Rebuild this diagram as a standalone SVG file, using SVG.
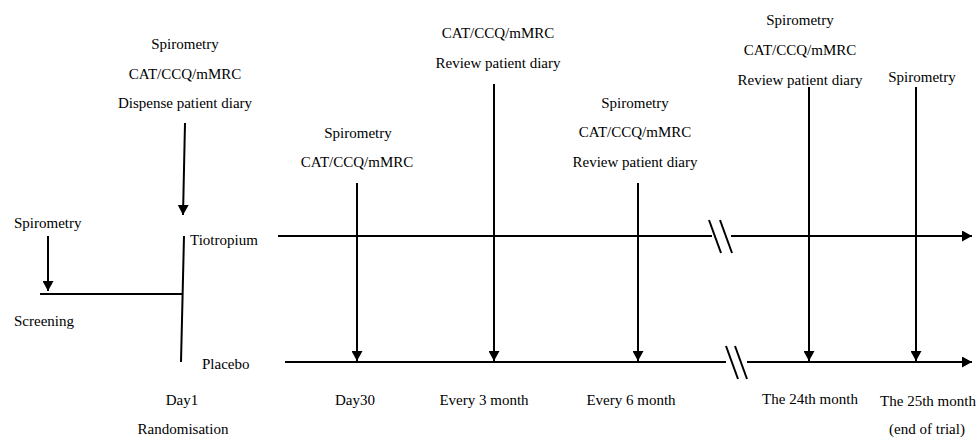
<svg xmlns="http://www.w3.org/2000/svg" width="976" height="438" viewBox="0 0 976 438">
  <style>
    text { font-family: "Liberation Serif", "Times New Roman", serif; font-size: 15px; fill: #000; }
    .c { text-anchor: middle; }
    .ln { stroke: #000; stroke-width: 2; fill: none; }
    .ar { stroke: #000; stroke-width: 2; fill: none; marker-end: url(#ah); }
  </style>
  <defs>
    <marker id="ah" markerUnits="userSpaceOnUse" markerWidth="11" markerHeight="11" refX="10" refY="5.5" orient="auto">
      <path d="M0,0 L10,5.5 L0,11 Z" fill="#000"/>
    </marker>
  </defs>
  <rect width="976" height="438" fill="#fff"/>

  <g id="connectors">
    <!-- screening -->
    <line class="ar" x1="48" y1="236" x2="48" y2="291"/>
    <line class="ln" x1="40" y1="294" x2="183" y2="294"/>
    <line class="ln" x1="184" y1="236" x2="181" y2="362"/>
    <line class="ar" x1="185" y1="123" x2="183" y2="215"/>
    <!-- Tiotropium timeline -->
    <line class="ln" x1="278" y1="236" x2="712" y2="236"/>
    <line class="ln" x1="709" y1="220" x2="721" y2="253"/>
    <line class="ln" x1="720" y1="220" x2="732" y2="253"/>
    <line class="ar" x1="731" y1="236" x2="972" y2="236"/>
    <!-- Placebo timeline -->
    <line class="ln" x1="285" y1="362" x2="726" y2="362"/>
    <line class="ln" x1="726" y1="346" x2="738" y2="379"/>
    <line class="ln" x1="735" y1="346" x2="747" y2="379"/>
    <line class="ar" x1="747" y1="362" x2="972" y2="362"/>
    <!-- visit arrows -->
    <line class="ar" x1="357" y1="183" x2="357" y2="361"/>
    <line class="ar" x1="494" y1="84" x2="494" y2="361"/>
    <line class="ar" x1="638" y1="183" x2="638" y2="361"/>
    <line class="ar" x1="809" y1="87" x2="809" y2="361"/>
    <line class="ar" x1="916" y1="87" x2="916" y2="361"/>
  </g>

  <g id="screening">
    <text x="14" y="228">Spirometry</text>
    <text x="14" y="326">Screening</text>
  </g>
  <g id="day1">
    <text class="c" x="185" y="49">Spirometry</text>
    <text class="c" x="185" y="79">CAT/CCQ/mMRC</text>
    <text class="c" x="185" y="108">Dispense patient diary</text>
    <text class="c" x="182" y="405">Day1</text>
    <text class="c" x="183" y="434">Randomisation</text>
  </g>
  <g id="tiotropium">
    <text x="190" y="245">Tiotropium</text>
  </g>
  <g id="placebo">
    <text x="202" y="369">Placebo</text>
  </g>
  <g id="day30">
    <text class="c" x="358" y="138">Spirometry</text>
    <text class="c" x="357" y="167">CAT/CCQ/mMRC</text>
    <text class="c" x="355" y="405">Day30</text>
  </g>
  <g id="every3">
    <text class="c" x="498" y="38">CAT/CCQ/mMRC</text>
    <text class="c" x="498" y="68">Review patient diary</text>
    <text class="c" x="484" y="405">Every 3 month</text>
  </g>
  <g id="every6">
    <text class="c" x="635" y="108">Spirometry</text>
    <text class="c" x="635" y="137">CAT/CCQ/mMRC</text>
    <text class="c" x="635" y="167">Review patient diary</text>
    <text class="c" x="631" y="405">Every 6 month</text>
  </g>
  <g id="month24">
    <text class="c" x="800" y="25">Spirometry</text>
    <text class="c" x="800" y="55">CAT/CCQ/mMRC</text>
    <text class="c" x="800" y="85">Review patient diary</text>
    <text class="c" x="810" y="404">The 24th month</text>
  </g>
  <g id="month25">
    <text class="c" x="922" y="82">Spirometry</text>
    <text class="c" x="928" y="406">The 25th month</text>
    <text class="c" x="927" y="434">(end of trial)</text>
  </g>
</svg>
